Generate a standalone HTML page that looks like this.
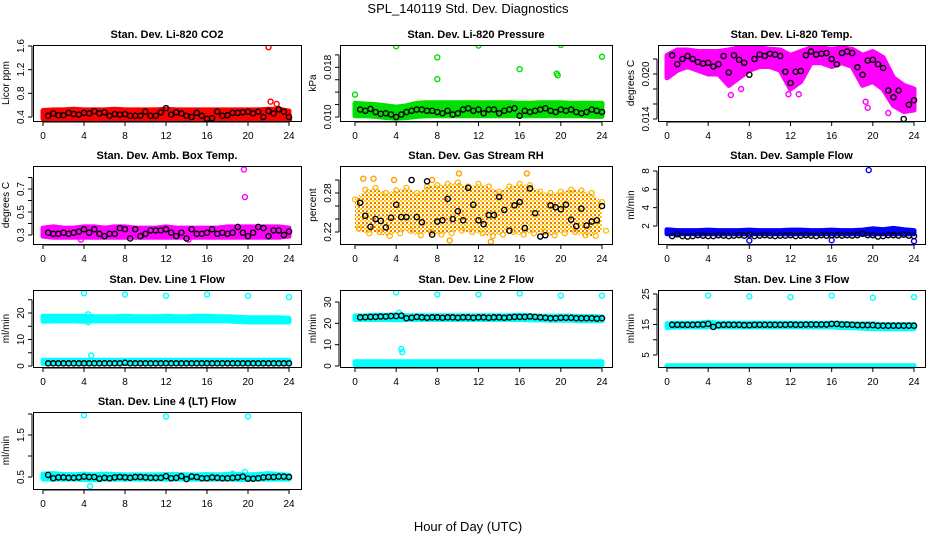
<!DOCTYPE html>
<html><head><meta charset="utf-8"><style>
html,body{margin:0;padding:0;background:#fff;}
svg{display:block;font-family:"Liberation Sans",sans-serif;}
</style></head><body>
<svg id="c" width="936" height="540" viewBox="0 0 936 540">
<defs>
<pattern id="rhpat" width="4" height="4" patternUnits="userSpaceOnUse">
<rect width="4" height="4" fill="#fff"/>
<rect x="0" y="0" width="2" height="2" fill="#ffd000"/>
<rect x="2" y="2" width="2" height="2" fill="#f07000"/>
<rect x="2" y="0" width="1" height="1" fill="#ffe060"/>
</pattern>
</defs>
</svg>
<script>
// ---- DATA ----
const hours = [0,1,2,3,4,5,6,7,8,9,10,11,12,13,14,15,16,17,18,19,20,21,22,23,24];
const xTicks = [0,4,8,12,16,20,24];
const co2Black = [0.42,0.46,0.43,0.43,0.47,0.45,0.44,0.47,0.46,0.50,0.46,0.48,0.42,0.45,0.44,0.45,0.42,0.42,0.42,0.49,0.42,0.42,0.48,0.55,0.44,0.48,0.46,0.42,0.40,0.47,0.42,0.37,0.38,0.49,0.42,0.43,0.47,0.47,0.48,0.49,0.46,0.49,0.40,0.50,0.46,0.53,0.49,0.40];
const co2Lo = [0.37,0.37,0.37,0.37,0.37,0.37,0.37,0.37,0.36,0.37,0.37,0.37,0.37,0.37,0.37,0.37,0.36,0.37,0.37,0.37,0.37,0.37,0.37,0.37,0.36];
const co2Hi = [0.51,0.52,0.52,0.53,0.52,0.52,0.52,0.53,0.52,0.52,0.52,0.52,0.53,0.52,0.52,0.52,0.52,0.52,0.52,0.52,0.52,0.52,0.53,0.53,0.50];
const co2OutX = [22,22.2,22.8,24,8];
const co2OutY = [1.58,0.66,0.62,0.35,0.35];

const presBlack = [0.0112,0.0110,0.0113,0.0108,0.0105,0.0106,0.0104,0.0100,0.0104,0.0108,0.0110,0.0112,0.0112,0.0110,0.0110,0.0108,0.0106,0.0110,0.0104,0.0106,0.0112,0.0114,0.0110,0.0112,0.0106,0.0112,0.0112,0.0106,0.0110,0.0112,0.0114,0.0102,0.0110,0.0108,0.0110,0.0112,0.0114,0.0110,0.0108,0.0112,0.0110,0.0112,0.0108,0.0106,0.0108,0.0112,0.0110,0.0108];
const presLo = [0.0102,0.0102,0.0101,0.0099,0.0098,0.0099,0.0101,0.0102,0.0102,0.0102,0.0102,0.0102,0.0102,0.0102,0.0102,0.0102,0.0102,0.0102,0.0102,0.0102,0.0102,0.0102,0.0102,0.0101,0.0101];
const presHi = [0.0122,0.0121,0.0120,0.0118,0.0116,0.0118,0.0122,0.0123,0.0123,0.0123,0.0123,0.0123,0.0123,0.0123,0.0123,0.0123,0.0122,0.0122,0.0123,0.0123,0.0123,0.0122,0.0122,0.0122,0.0122];
const presOutX = [0,4,8,8,12,16,19.6,19.7,20,24];
const presOutY = [0.0136,0.0214,0.0196,0.0161,0.0215,0.0177,0.0170,0.0167,0.0216,0.0197];

const tempBlack = [0.0225,0.0213,0.0220,0.0224,0.0220,0.0216,0.0214,0.0215,0.0210,0.0213,0.0224,0.0202,0.0225,0.0219,0.0215,0.0199,0.0220,0.0226,0.0224,0.0227,0.0226,0.0224,0.0203,0.0188,0.0203,0.0204,0.0225,0.0230,0.0226,0.0227,0.0228,0.0220,0.0213,0.0228,0.0230,0.0228,0.0209,0.0199,0.0218,0.0219,0.0213,0.0208,0.0178,0.0169,0.0178,0.0140,0.0159,0.0165];
const tempLo = [0.0195,0.0205,0.0210,0.0205,0.0200,0.0200,0.0185,0.0195,0.0205,0.0210,0.0210,0.0205,0.0180,0.0190,0.0215,0.0215,0.0210,0.0215,0.0210,0.0185,0.0190,0.0180,0.0158,0.0150,0.0152];
const tempHi = [0.0225,0.0232,0.0232,0.0230,0.0230,0.0230,0.0232,0.0235,0.0235,0.0235,0.0233,0.0232,0.0225,0.0230,0.0235,0.0235,0.0233,0.0235,0.0233,0.0225,0.0230,0.0222,0.0195,0.0185,0.0180];
const tempOutX = [6.2,7.2,11.8,12.8,19.3,19.5,21.5];
const tempOutY = [0.0172,0.0180,0.0173,0.0173,0.0163,0.0155,0.0148];

const ambBlack = [0.32,0.31,0.31,0.32,0.31,0.32,0.33,0.35,0.32,0.35,0.31,0.29,0.31,0.31,0.36,0.35,0.27,0.35,0.29,0.31,0.34,0.34,0.34,0.35,0.32,0.29,0.32,0.27,0.35,0.31,0.31,0.32,0.35,0.31,0.32,0.31,0.32,0.37,0.32,0.29,0.32,0.37,0.36,0.29,0.34,0.34,0.30,0.33];
const ambLo = [0.29,0.28,0.28,0.28,0.28,0.28,0.28,0.28,0.28,0.28,0.28,0.28,0.28,0.28,0.28,0.28,0.28,0.28,0.28,0.28,0.28,0.28,0.28,0.28,0.29];
const ambHi = [0.36,0.37,0.36,0.36,0.37,0.37,0.36,0.37,0.37,0.36,0.36,0.36,0.37,0.36,0.36,0.36,0.36,0.36,0.37,0.37,0.37,0.37,0.37,0.37,0.36];
const ambOutX = [19.6,19.7,3.7,14.2];
const ambOutY = [0.87,0.63,0.26,0.26];

const rhBlack = [0.265,0.245,0.228,0.240,0.237,0.227,0.242,0.262,0.243,0.243,0.300,0.243,0.235,0.298,0.216,0.236,0.238,0.271,0.240,0.252,0.238,0.288,0.262,0.238,0.232,0.246,0.246,0.274,0.254,0.222,0.261,0.266,0.226,0.287,0.249,0.213,0.215,0.261,0.258,0.255,0.262,0.239,0.229,0.256,0.230,0.236,0.238,0.260];
const rhLo = [0.225,0.218,0.220,0.214,0.218,0.222,0.215,0.220,0.216,0.218,0.222,0.220,0.218,0.214,0.216,0.220,0.216,0.218,0.220,0.215,0.218,0.220,0.215,0.214,0.222];
const rhHi = [0.270,0.285,0.288,0.280,0.284,0.288,0.280,0.290,0.292,0.294,0.296,0.290,0.294,0.290,0.282,0.290,0.294,0.292,0.282,0.280,0.282,0.285,0.284,0.280,0.266];
const rhOutX = [0.8,1.8,3.8,7.5,9.2,10.1,13.2,16.7];
const rhOutY = [0.302,0.302,0.300,0.300,0.207,0.310,0.205,0.310];

const sfBlack = [0.9,1.1,0.9,0.85,0.9,1.0,0.95,0.9,0.9,1.0,0.95,0.9,0.95,1.0,0.95,1.05,0.9,0.95,1.0,0.95,0.9,0.95,0.95,1.0,0.9,0.95,1.0,0.95,0.9,1.0,0.95,1.0,1.0,0.95,1.0,0.95,1.0,1.15,1.0,1.0,0.85,0.9,1.0,1.0,0.95,1.05,0.95,0.9];
const sfLo = [1.15,1.15,1.15,1.15,1.15,1.15,1.15,1.15,1.15,1.15,1.15,1.15,1.15,1.15,1.15,1.15,1.15,1.15,1.15,1.15,1.15,1.15,1.15,1.15,1.15];
const sfHi = [1.6,1.5,1.5,1.5,1.55,1.5,1.5,1.5,1.55,1.5,1.5,1.5,1.55,1.55,1.5,1.5,1.55,1.5,1.5,1.55,1.7,1.6,1.75,1.6,1.5];
const sfOutX = [19.6,8,16,24];
const sfOutY = [8.1,0.4,0.45,0.35];

const l1Black = [1.0,1.0,1.0,1.0,1.0,1.0,1.0,1.0,1.0,1.0,1.0,1.0,1.0,1.0,1.0,1.2,1.0,1.0,1.0,1.0,1.0,1.0,1.0,1.0,1.0,1.0,1.0,1.0,1.0,1.0,1.0,1.0,1.0,1.0,1.0,1.0,1.0,1.0,1.0,1.0,1.0,1.0,1.0,1.0,1.0,1.0,1.0,1.0];
const l1Lo = [16.9,17.0,17.0,17.0,16.9,17.0,17.0,17.0,17.0,17.0,17.0,17.0,17.0,17.0,17.0,17.0,17.0,17.0,17.0,16.8,16.6,16.6,16.6,16.6,16.6];
const l1Hi = [18.8,18.8,18.8,18.8,18.8,18.6,18.6,18.6,18.8,18.6,18.6,18.6,18.8,18.6,18.6,18.8,18.8,18.6,18.6,18.4,18.2,18.2,18.2,18.2,18.0];
const l1Lo2 = [1.0,1.0,1.0,1.0,1.0,1.0,1.0,1.0,1.0,1.0,1.0,1.0,1.0,1.0,1.0,1.0,1.0,1.0,1.0,1.0,1.0,1.0,1.0,1.0,1.0];
const l1Hi2 = [2.2,2.2,2.2,2.2,2.2,2.2,2.2,2.2,2.2,2.2,2.2,2.2,2.2,2.2,2.2,2.2,2.2,2.2,2.2,2.2,2.2,2.2,2.2,2.2,2.2];
const l1OutX = [4,8,12,16,20,24,4.4,4.4,4.7];
const l1OutY = [27.5,27,26.5,27,26.5,26,19.5,16.5,4];

const l2Black = [22.8,22.9,23.0,23.0,23.2,23.2,23.4,23.4,23.6,22.4,22.6,23.0,22.8,22.6,22.8,22.8,22.6,22.8,22.8,22.6,22.8,22.8,22.6,22.8,22.8,22.6,22.8,22.8,22.6,22.8,23.0,23.0,23.0,23.2,23.0,22.8,22.6,22.4,22.4,22.6,22.6,22.6,22.4,22.4,22.4,22.4,22.2,22.4];
const l2Lo = [21.8,21.8,21.8,21.8,21.6,21.8,21.8,21.8,21.8,21.8,21.8,21.8,21.8,21.8,21.8,21.8,21.8,21.6,21.6,21.4,21.4,21.4,21.2,21.2,21.2];
const l2Hi = [23.5,23.6,23.8,23.8,24.0,23.6,23.6,23.6,23.6,23.6,23.6,23.6,23.6,23.6,23.6,23.6,23.8,23.6,23.4,23.4,23.4,23.4,23.2,23.2,23.0];
const l2Lo2 = [0.6,0.6,0.6,0.6,0.6,0.6,0.6,0.6,0.6,0.6,0.6,0.6,0.6,0.6,0.6,0.6,0.6,0.6,0.6,0.6,0.6,0.6,0.6,0.6,0.6];
const l2Hi2 = [2.0,2.0,2.0,2.0,2.0,2.0,2.0,2.0,2.0,2.0,2.0,2.0,2.0,2.0,2.0,2.0,2.0,2.0,2.0,2.0,2.0,2.0,2.0,2.0,2.0];
const l2OutX = [4,8,12,16,20,24,4.3,4.5,4.6];
const l2OutY = [34.5,33.5,33.5,34,33,33,25,8,6.5];

const l3Black = [14.9,14.9,14.9,14.9,14.9,15.0,15.0,15.2,14.2,14.8,14.9,14.9,14.9,14.9,14.8,14.8,14.9,14.9,14.9,14.9,14.9,14.9,14.9,15.0,14.9,14.9,15.0,15.0,15.0,15.0,15.0,15.2,15.2,15.0,15.0,14.9,14.8,14.8,14.8,14.8,14.6,14.6,14.6,14.6,14.6,14.6,14.6,14.6];
const l3Lo = [14.0,14.2,14.2,14.2,14.2,14.2,14.2,14.2,14.2,14.2,14.2,14.2,14.2,14.2,14.2,14.2,14.2,14.0,14.0,13.8,13.6,13.6,13.6,13.6,13.6];
const l3Hi = [15.3,15.4,15.4,15.4,15.8,15.4,15.4,15.4,15.4,15.4,15.4,15.4,15.4,15.4,15.4,15.4,15.4,15.4,15.2,15.2,15.2,15.0,15.0,15.0,15.0];
const l3Lo2 = [0.4,0.4,0.4,0.4,0.4,0.4,0.4,0.4,0.4,0.4,0.4,0.4,0.4,0.4,0.4,0.4,0.4,0.4,0.4,0.4,0.4,0.4,0.4,0.4,0.4];
const l3Hi2 = [1.5,1.5,1.5,1.5,1.5,1.5,1.5,1.5,1.5,1.5,1.5,1.5,1.5,1.5,1.5,1.5,1.5,1.5,1.5,1.5,1.5,1.5,1.5,1.5,1.5];
const l3OutX = [4,8,12,16,20,24,4.4];
const l3OutY = [24.5,24.2,24,24.5,23.8,24,15.5];

const l4Black = [0.55,0.47,0.49,0.49,0.48,0.48,0.49,0.51,0.50,0.50,0.46,0.48,0.47,0.49,0.50,0.49,0.48,0.50,0.50,0.49,0.48,0.48,0.48,0.52,0.47,0.48,0.52,0.45,0.51,0.50,0.47,0.47,0.49,0.48,0.47,0.47,0.48,0.49,0.51,0.46,0.46,0.47,0.49,0.50,0.50,0.51,0.51,0.50];
const l4Lo = [0.45,0.45,0.45,0.45,0.44,0.43,0.45,0.45,0.45,0.45,0.45,0.45,0.45,0.45,0.45,0.45,0.45,0.45,0.45,0.44,0.44,0.45,0.45,0.45,0.45];
const l4Hi = [0.57,0.58,0.56,0.55,0.57,0.55,0.57,0.56,0.55,0.55,0.55,0.55,0.56,0.56,0.55,0.55,0.56,0.55,0.56,0.56,0.55,0.56,0.58,0.56,0.54];
const l4OutX = [4,12,20,19.7,4.6,18.5];
const l4OutY = [1.97,1.94,1.94,0.62,0.28,0.58];

// ---- LAYOUT ----
const cols = [{l:33,r:301,x0:43,x24:289},{l:340,r:612,x0:355,x24:602},{l:658,r:925,x0:667,x24:914}];
const rows = [{t:45,b:121},{t:166,b:244},{t:290,b:367},{t:412,b:489}];
const panels = [
 {name:'co2',title:'Stan. Dev. Li-820 CO2',yl:'Licor ppm',c:0,r:0,v0:0.4,p0:117,v1:1.6,p1:46,ticks:[0.4,0.8,1.2,1.6],labs:[0.4,0.8,1.2,1.6],dig:1,col:'#ff0000',bands:[[co2Lo,co2Hi]],ox:co2OutX,oy:co2OutY,blk:co2Black},
 {name:'pressure',title:'Stan. Dev. Li-820 Pressure',yl:'kPa',c:1,r:0,v0:0.010,p0:117,v1:0.018,p1:67.3,ticks:[0.010,0.012,0.014,0.016,0.018,0.020,0.022],labs:[0.010,0.018],dig:3,col:'#00e000',bands:[[presLo,presHi]],ox:presOutX,oy:presOutY,blk:presBlack},
 {name:'li820-temp',title:'Stan. Dev. Li-820 Temp.',yl:'degrees C',c:2,r:0,v0:0.014,p0:119,v1:0.020,p1:74,ticks:[0.014,0.016,0.018,0.020,0.022],labs:[0.014,0.020],dig:3,col:'#ff00ff',bands:[[tempLo,tempHi]],ox:tempOutX,oy:tempOutY,blk:tempBlack},
 {name:'amb-box-temp',title:'Stan. Dev. Amb. Box Temp.',yl:'degrees C',c:0,r:1,v0:0.3,p0:235,v1:0.7,p1:189,ticks:[0.3,0.4,0.5,0.6,0.7,0.8],labs:[0.3,0.5,0.7],dig:1,col:'#ff00ff',bands:[[ambLo,ambHi]],ox:ambOutX,oy:ambOutY,blk:ambBlack},
 {name:'gas-stream-rh',title:'Stan. Dev. Gas Stream RH',yl:'percent',c:1,r:1,v0:0.22,p0:232,v1:0.28,p1:193,ticks:[0.22,0.24,0.26,0.28,0.30],labs:[0.22,0.28],dig:2,col:'#ffa000',bands:[[rhLo,rhHi]],ox:rhOutX,oy:rhOutY,blk:rhBlack,rh:true},
 {name:'sample-flow',title:'Stan. Dev. Sample Flow',yl:'ml/min',c:2,r:1,v0:2,p0:226,v1:8,p1:171,ticks:[2,4,6,8],labs:[2,4,6,8],dig:0,col:'#0000ff',bands:[[sfLo,sfHi]],ox:sfOutX,oy:sfOutY,blk:sfBlack},
 {name:'line1-flow',title:'Stan. Dev. Line 1 Flow',yl:'ml/min',c:0,r:2,v0:0,p0:366,v1:20,p1:313,ticks:[0,5,10,15,20,25],labs:[0,10,20],dig:0,col:'#00ffff',bands:[[l1Lo,l1Hi],[l1Lo2,l1Hi2]],ox:l1OutX,oy:l1OutY,blk:l1Black},
 {name:'line2-flow',title:'Stan. Dev. Line 2 Flow',yl:'ml/min',c:1,r:2,v0:0,p0:366,v1:30,p1:302,ticks:[0,10,20,30],labs:[0,10,20,30],dig:0,col:'#00ffff',bands:[[l2Lo,l2Hi],[l2Lo2,l2Hi2]],ox:l2OutX,oy:l2OutY,blk:l2Black},
 {name:'line3-flow',title:'Stan. Dev. Line 3 Flow',yl:'ml/min',c:2,r:2,v0:5,p0:355,v1:25,p1:294,ticks:[5,10,15,20,25],labs:[5,15,25],dig:0,col:'#00ffff',bands:[[l3Lo,l3Hi],[l3Lo2,l3Hi2]],ox:l3OutX,oy:l3OutY,blk:l3Black},
 {name:'line4-flow',title:'Stan. Dev. Line 4 (LT) Flow',yl:'ml/min',c:0,r:3,v0:0.5,p0:477,v1:1.5,p1:435,ticks:[0.5,1.0,1.5,2.0],labs:[0.5,1.5],dig:1,col:'#00ffff',bands:[[l4Lo,l4Hi]],ox:l4OutX,oy:l4OutY,blk:l4Black}
];

const NS='http://www.w3.org/2000/svg';
const svg=document.getElementById('c');
function mk(tag,attrs,parent,txt){const e=document.createElementNS(NS,tag);for(const k in attrs)e.setAttribute(k,attrs[k]);if(txt!==undefined)e.textContent=txt;(parent||svg).appendChild(e);return e;}

const mt=mk('text',{x:468,y:13,'text-anchor':'middle','font-size':13},svg,'SPL_140119  Std. Dev. Diagnostics');


const xt=mk('text',{x:468,y:531,'text-anchor':'middle','font-size':13},svg,'Hour of Day (UTC)');



panels.forEach(p=>{
  const C=cols[p.c],R=rows[p.r];
  const X=h=>C.x0+(C.x24-C.x0)*h/24;
  const Y=v=>p.p0+(p.p1-p.p0)*(v-p.v0)/(p.v1-p.v0);
  const g=mk('g',{});
  
  
  const clipId='clip-'+p.name;
  const cp=mk('clipPath',{id:clipId},g);mk('rect',{x:C.l,y:R.t,width:C.r-C.l,height:R.b-R.t},cp);
  const t=mk('text',{x:(C.l+C.r)/2,y:R.t-7,'text-anchor':'middle','font-size':11,'font-weight':'bold'},g,p.title);
  
  
  const plot=mk('g',{'clip-path':'url(#'+clipId+')'},g);
  p.bands.forEach(b=>{
    const lo=b[0],hi=b[1];let d='';
    hours.forEach((h,i)=>{d+=(i?'L':'M')+X(h).toFixed(1)+','+Y(hi[i]).toFixed(1);});
    for(let i=hours.length-1;i>=0;i--)d+='L'+X(hours[i]).toFixed(1)+','+Y(lo[i]).toFixed(1);
    d+='Z';
    const bp=mk('path',{d:d,fill:p.rh?'url(#rhpat)':p.col,stroke:p.rh?'none':p.col,'stroke-width':5,'stroke-linejoin':'round'},plot);
    
    
    if(p.rh){
      hours.forEach((h,i)=>{
        const dot=mk('circle',{cx:X(h),cy:Y(hi[i]),r:2.5,fill:'none',stroke:'#ffb000','stroke-width':1.2},plot);
        
        
        const dot2=mk('circle',{cx:X(h)+4,cy:Y(lo[i]),r:2.5,fill:'none',stroke:'#ffb000','stroke-width':1.2},plot);
        
        
      });
    }
  });
  p.ox.forEach((h,i)=>{
    const o=mk('circle',{cx:X(h),cy:Y(p.oy[i]),r:2.5,fill:'none',stroke:p.col,'stroke-width':1.4},plot);
    
    
  });
  p.blk.forEach((v,i)=>{
    const b=mk('circle',{cx:X(0.5*(i+1)),cy:Y(v),r:2.6,fill:'none',stroke:'#000','stroke-width':1.4},plot);
    
    
  });
  const bx=mk('rect',{x:C.l+0.5,y:R.t+0.5,width:C.r-C.l,height:R.b-R.t,fill:'none',stroke:'#000','stroke-width':1},g);
  
  
  const xa=mk('g',{},g);
  
  
  mk('line',{x1:X(0),x2:X(24),y1:R.b+1,y2:R.b+1,stroke:'#000'},xa);
  xTicks.forEach(h=>{
    mk('line',{x1:X(h),x2:X(h),y1:R.b+1,y2:R.b+5,stroke:'#000'},xa);
    mk('text',{x:X(h),y:R.b+18,'text-anchor':'middle','font-size':10},xa,String(h));
  });
  const ya=mk('g',{},g);
  
  
  const tv=p.ticks.filter(v=>Y(v)>=R.t-1&&Y(v)<=R.b+1);
  mk('line',{x1:C.l-1,x2:C.l-1,y1:Y(tv[0]),y2:Y(tv[tv.length-1]),stroke:'#000'},ya);
  tv.forEach(v=>{mk('line',{x1:C.l-5,x2:C.l-1,y1:Y(v),y2:Y(v),stroke:'#000'},ya);});
  p.labs.forEach(v=>{
    const x=C.l-9,y=Y(v);
    mk('text',{x:x,y:y,'text-anchor':'middle','font-size':10,transform:'rotate(-90 '+x+' '+y+')'},ya,v.toFixed(p.dig));
  });
  const yx=C.l-24,yy=(R.t+R.b)/2;
  const yt=mk('text',{x:yx,y:yy,'text-anchor':'middle','font-size':10,transform:'rotate(-90 '+yx+' '+yy+')'},g,p.yl);
  
  
});
</script>
</body></html>
